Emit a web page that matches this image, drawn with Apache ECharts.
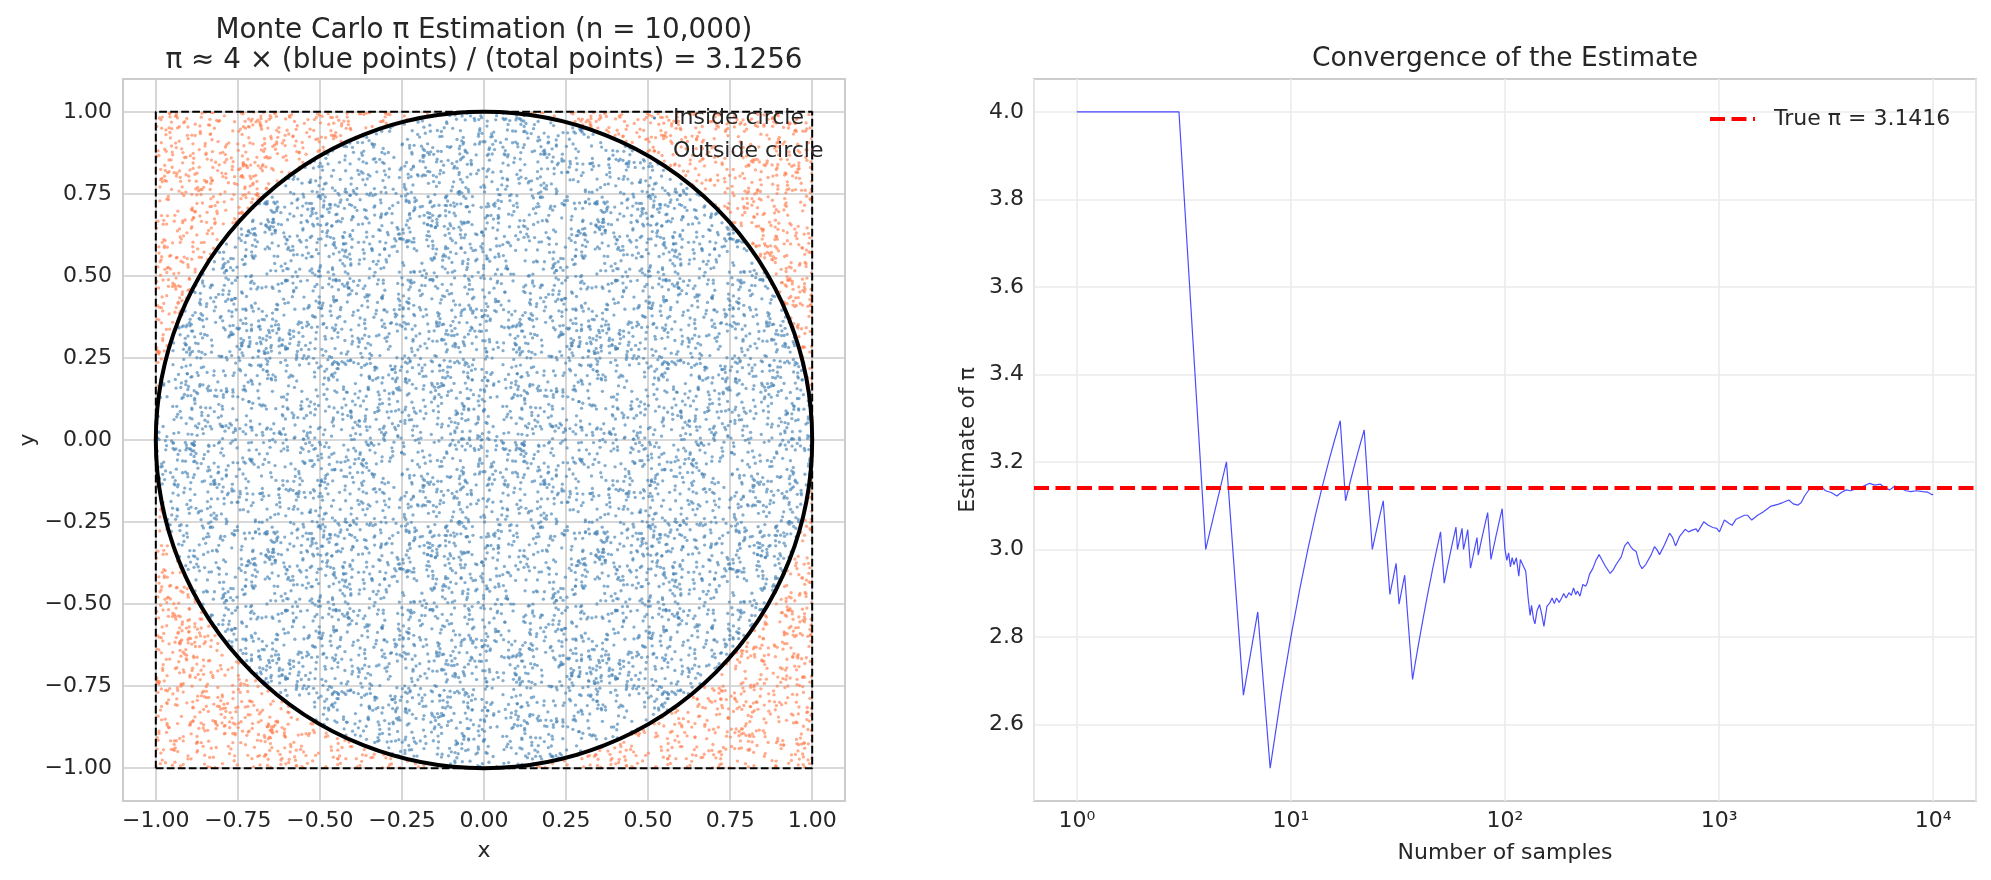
<!DOCTYPE html>
<html>
<head>
<meta charset="utf-8">
<script src="https://cdn.jsdelivr.net/npm/echarts@6/dist/echarts.min.js"></script>
<style>
html,body{margin:0;padding:0;background:#ffffff;}
#chart{width:1991px;height:880px;}
</style>
</head>
<body>
<div id="chart"></div>
<script>
// ---------------- data ----------------
const totalPoints = 10000;
const piEstimate = 3.1256;
const trueValue = 3.1416;

// square of the sampling region and the unit circle
const squareX = [-1, 1, 1, -1, -1];
const squareY = [-1, -1, 1, 1, -1];
const circleCenter = [0, 0];
const circleRadius = [1];

// tick labels
const scatterTicks = [-1, -0.75, -0.5, -0.25, 0, 0.25, 0.5, 0.75, 1];
const logTickLabels = ['10⁰', '10¹', '10²', '10³', '10⁴'];
const piTicks = [2.6, 2.8, 3.0, 3.2, 3.4, 3.6, 3.8, 4.0];

// running estimate
const sampleCounts = [
  1, 2, 3, 4, 5, 6, 7, 8, 9, 10, 11, 12, 13, 14, 15, 16, 17, 18, 19, 20,
  21, 22, 23, 24, 25, 26, 27, 28, 29, 30, 31, 32, 33, 34, 35, 36, 37, 38, 39, 40,
  41, 42, 43, 44, 45, 46, 47, 48, 49, 50, 51, 52, 53, 54, 55, 56, 57, 58, 59, 60,
  61, 62, 63, 64, 65, 66, 67, 68, 69, 70, 71, 72, 73, 74, 75, 76, 77, 78, 79, 80,
  81, 82, 83, 84, 85, 86, 87, 88, 89, 90, 91, 92, 93, 94, 95, 96, 97, 98, 99, 100,
  102, 104, 106, 108, 110, 113, 116, 118, 121, 125, 128, 131, 133, 136, 138, 141, 145, 148, 152, 157,
  162, 166, 170, 174, 179, 184, 188, 193, 199, 204, 209, 214, 218, 224, 231, 238, 242, 248, 257, 266,
  275, 283, 294, 310, 321, 330, 349, 362, 375, 388, 396, 410, 425, 437, 455, 482, 499, 512, 527, 557,
  587, 607, 626, 653, 694, 720, 749, 781, 795, 848, 890, 935, 975, 1004, 1059, 1110, 1150, 1201, 1313, 1360,
  1421, 1448, 1514, 1600, 1750, 1880, 1984, 2116, 2220, 2331, 2420, 2506, 2645, 2742, 2892, 2999, 3141, 3341, 3550, 3720,
  3926, 4120, 4375, 4704, 5052, 5330, 5667, 5950, 6266, 6616, 7020, 7469, 7880, 8316, 8936, 9400, 9876, 10000
];
const runningEstimate = [
  4.000, 4.000, 4.000, 3.000, 3.200, 2.667, 2.857, 2.500, 2.667, 2.800, 2.909, 3.000, 3.077, 3.143, 3.200, 3.250, 3.294, 3.111, 3.158, 3.200,
  3.238, 3.273, 3.130, 3.000, 3.040, 3.077, 3.111, 3.000, 2.897, 2.933, 2.968, 2.875, 2.909, 2.941, 2.857, 2.778, 2.703, 2.737, 2.769, 2.800,
  2.829, 2.857, 2.884, 2.909, 2.933, 2.957, 2.979, 3.000, 3.020, 3.040, 2.980, 2.923, 2.943, 2.963, 2.982, 3.000, 3.018, 3.034, 3.051, 3.000,
  3.016, 3.032, 3.048, 3.000, 3.015, 3.030, 3.045, 3.000, 2.957, 2.971, 2.986, 3.000, 3.014, 3.027, 2.987, 3.000, 3.013, 3.026, 3.038, 3.050,
  3.062, 3.073, 3.084, 3.048, 3.012, 2.977, 2.989, 3.000, 3.011, 3.022, 3.033, 3.043, 3.054, 3.064, 3.074, 3.083, 3.093, 3.061, 3.030, 3.000,
  2.975, 2.992, 2.960, 2.981, 2.965, 2.981, 2.939, 2.977, 2.965, 2.950, 2.893, 2.849, 2.872, 2.840, 2.830, 2.859, 2.874, 2.855, 2.824, 2.870,
  2.878, 2.889, 2.876, 2.889, 2.879, 2.889, 2.899, 2.889, 2.901, 2.895, 2.912, 2.897, 2.905, 2.893, 2.920, 2.916, 2.923, 2.943, 2.956, 2.975,
  2.988, 2.977, 2.962, 2.945, 2.954, 2.965, 2.983, 3.008, 3.017, 3.005, 3.000, 2.995, 2.966, 2.956, 2.966, 2.988, 3.006, 3.000, 2.988, 3.011,
  3.037, 3.027, 3.008, 3.029, 3.046, 3.040, 3.044, 3.047, 3.040, 3.063, 3.055, 3.050, 3.048, 3.040, 3.067, 3.060, 3.055, 3.069, 3.078, 3.078,
  3.067, 3.065, 3.078, 3.085, 3.099, 3.103, 3.107, 3.113, 3.104, 3.101, 3.107, 3.122, 3.138, 3.141, 3.136, 3.144, 3.134, 3.130, 3.122, 3.130,
  3.136, 3.134, 3.139, 3.144, 3.151, 3.147, 3.149, 3.141, 3.136, 3.145, 3.140, 3.134, 3.132, 3.134, 3.132, 3.131, 3.125, 3.1256
];

// ---------------- styling helpers ----------------
const FONT = 'DejaVu Sans';
const TXT = '#262626';

// Fill texture (a fixed, hashed dot pattern) that shades each region with the
// same dot size, colour and density as the reference point cloud.
function hash01(i) {
  let h = Math.imul(i + 0x9e3779b9, 0x85ebca6b) >>> 0;
  h ^= h >>> 13; h = Math.imul(h, 0xc2b2ae35) >>> 0;
  h ^= h >>> 16; h = Math.imul(h, 0x27d4eb2f) >>> 0;
  h ^= h >>> 15;
  return (h >>> 0) / 4294967296;
}
function dotTile(color, salt) {
  const size = 330, count = 2530, rad = 1.65;
  const c = document.createElement('canvas');
  c.width = size; c.height = size;
  const ctx = c.getContext('2d');
  ctx.fillStyle = color;
  for (let i = 0; i < count; i++) {
    const x = hash01(2 * i + salt) * size;
    const y = hash01(2 * i + 1 + salt) * size;
    for (const dx of [-size, 0, size]) {
      for (const dy of [-size, 0, size]) {
        ctx.beginPath();
        ctx.arc(x + dx, y + dy, rad, 0, Math.PI * 2);
        ctx.fill();
      }
    }
  }
  return c;
}
const bluePattern = { image: dotTile('rgba(70,130,180,0.66)', 17), repeat: 'repeat' };
const orangePattern = { image: dotTile('rgba(255,127,80,0.66)', 90001), repeat: 'repeat' };

const fmtScatter = v => (v < 0 ? '−' : '') + Math.abs(v).toFixed(2);

const chart = echarts.init(document.getElementById('chart'), null, { renderer: 'canvas' });

const option = {
  animation: false,
  backgroundColor: '#ffffff',
  textStyle: { fontFamily: FONT, color: TXT },
  title: [
    {
      text: 'Monte Carlo π Estimation (n = ' + totalPoints.toLocaleString('en-US') + ')\n' +
            'π ≈ 4 × (blue points) / (total points) = ' + piEstimate.toFixed(4),
      left: 484, top: 16, textAlign: 'center', padding: 0,
      textStyle: { fontFamily: FONT, fontSize: 27.8, fontWeight: 'normal', color: TXT, lineHeight: 30 }
    },
    {
      text: 'Convergence of the Estimate',
      left: 1505, top: 44, textAlign: 'center', padding: 0,
      textStyle: { fontFamily: FONT, fontSize: 26.5, fontWeight: 'normal', color: TXT, lineHeight: 30 }
    }
  ],
  legend: [
    {
      data: ['Inside circle', 'Outside circle'],
      orient: 'vertical', left: 648, top: 102,
      itemWidth: 3, itemHeight: 3, itemGap: 11, icon: 'circle',
      selectedMode: false,
      textStyle: { fontFamily: FONT, fontSize: 22, color: TXT, padding: [0, 0, 0, 12] }
    },
    {
      data: ['True π = ' + trueValue.toFixed(4)],
      left: 1703, top: 103,
      itemWidth: 45, itemHeight: 14,
      selectedMode: false,
      itemStyle: { color: 'rgba(0,0,0,0)', borderWidth: 0, opacity: 0 },
      lineStyle: { color: '#ff0000', width: 4, type: [15, 6.5], opacity: 1 },
      textStyle: { fontFamily: FONT, fontSize: 22, color: TXT, padding: [0, 0, 0, 14] }
    }
  ],
  grid: [
    { left: 123, top: 79, width: 722, height: 722, show: true, borderColor: '#cccccc', borderWidth: 2, backgroundColor: 'transparent' },
    { left: 1034, top: 79, width: 942, height: 722, show: true, borderColor: '#cccccc', borderWidth: 2, backgroundColor: 'transparent' }
  ],
  xAxis: [
    {
      gridIndex: 0, type: 'value', min: -1.1, max: 1.1,
      name: 'x', nameLocation: 'middle', nameGap: 39,
      nameTextStyle: { fontFamily: FONT, fontSize: 22, color: TXT },
      axisLine: { show: false },
      axisTick: { show: false, customValues: scatterTicks },
      axisLabel: { customValues: scatterTicks, formatter: fmtScatter, fontFamily: FONT, fontSize: 22, color: TXT, margin: 9 },
      splitLine: { show: true, lineStyle: { color: '#cccccc', width: 1.6 } }
    },
    {
      gridIndex: 1, type: 'log', logBase: 10, min: Math.pow(10, -0.2), max: Math.pow(10, 4.2),
      name: 'Number of samples', nameLocation: 'middle', nameGap: 41,
      nameTextStyle: { fontFamily: FONT, fontSize: 22, color: TXT },
      axisLine: { show: false },
      axisTick: { show: false },
      minorTick: { show: false },
      axisLabel: {
        showMinLabel: false, showMaxLabel: false,
        fontFamily: FONT, fontSize: 22, color: TXT, margin: 9,
        formatter: v => {
          const l = Math.log10(v);
          const e = Math.round(l);
          if (Math.abs(l - e) > 1e-6) return '';
          return logTickLabels[e] || '';
        }
      },
      splitLine: { show: true, lineStyle: { color: '#ebebeb', width: 1.6 } }
    }
  ],
  yAxis: [
    {
      gridIndex: 0, type: 'value', min: -1.1, max: 1.1,
      name: 'y', nameLocation: 'middle', nameGap: 84,
      nameTextStyle: { fontFamily: FONT, fontSize: 22, color: TXT },
      axisLine: { show: false },
      axisTick: { show: false, customValues: scatterTicks },
      axisLabel: { customValues: scatterTicks, formatter: fmtScatter, fontFamily: FONT, fontSize: 22, color: TXT, margin: 11 },
      splitLine: { show: true, lineStyle: { color: '#cccccc', width: 1.6 } }
    },
    {
      gridIndex: 1, type: 'value', min: 2.425, max: 4.075, splitNumber: 8,
      name: 'Estimate of π', nameLocation: 'middle', nameGap: 55,
      nameTextStyle: { fontFamily: FONT, fontSize: 22, color: TXT },
      axisLine: { show: false },
      axisTick: { show: false, customValues: piTicks },
      axisLabel: { customValues: piTicks, formatter: v => v.toFixed(1), fontFamily: FONT, fontSize: 22, color: TXT, margin: 10 },
      splitLine: { show: true, lineStyle: { color: '#ebebeb', width: 1.6 } }
    }
  ],
  series: [
    {
      type: 'custom', name: 'Outside circle', coordinateSystem: 'cartesian2d',
      xAxisIndex: 0, yAxisIndex: 0, silent: true, z: 2,
      itemStyle: { color: 'coral' },
      data: [[circleCenter[0], circleCenter[1], circleRadius[0]]],
      renderItem: (params, api) => {
        const p0 = api.coord([Math.min(...squareX), Math.max(...squareY)]);
        const p1 = api.coord([Math.max(...squareX), Math.min(...squareY)]);
        const c = api.coord([api.value(0), api.value(1)]);
        const r = api.size([api.value(2), 0])[0];
        const d = 'M' + p0[0] + ' ' + p0[1] + ' L' + p1[0] + ' ' + p0[1] + ' L' + p1[0] + ' ' + p1[1] +
          ' L' + p0[0] + ' ' + p1[1] + ' Z M' + (c[0] + r) + ' ' + c[1] +
          ' A' + r + ' ' + r + ' 0 1 0 ' + (c[0] - r) + ' ' + c[1] +
          ' A' + r + ' ' + r + ' 0 1 0 ' + (c[0] + r) + ' ' + c[1] + ' Z';
        return {
          type: 'path',
          shape: { pathData: d, x: p0[0], y: p0[1], width: p1[0] - p0[0], height: p1[1] - p0[1] },
          style: { fill: orangePattern, stroke: null }
        };
      }
    },
    {
      type: 'custom', name: 'Inside circle', coordinateSystem: 'cartesian2d',
      xAxisIndex: 0, yAxisIndex: 0, silent: true, z: 2,
      itemStyle: { color: 'steelblue' },
      data: [[circleCenter[0], circleCenter[1], circleRadius[0]]],
      renderItem: (params, api) => {
        const c = api.coord([api.value(0), api.value(1)]);
        const r = api.size([api.value(2), 0])[0];
        return { type: 'circle', shape: { cx: c[0], cy: c[1], r: r }, style: { fill: bluePattern, stroke: null } };
      }
    },
    {
      type: 'line', name: 'square', xAxisIndex: 0, yAxisIndex: 0, silent: true, z: 3,
      data: squareX.map((x, i) => [x, squareY[i]]),
      symbol: 'none',
      lineStyle: { color: '#000000', width: 2, type: [7.7, 3.3] }
    },
    {
      type: 'custom', name: 'circle', coordinateSystem: 'cartesian2d',
      xAxisIndex: 0, yAxisIndex: 0, silent: true, z: 4,
      data: [[circleCenter[0], circleCenter[1], circleRadius[0]]],
      renderItem: (params, api) => {
        const c = api.coord([api.value(0), api.value(1)]);
        const r = api.size([api.value(2), 0])[0];
        return { type: 'circle', shape: { cx: c[0], cy: c[1], r: r }, style: { fill: 'none', stroke: '#000000', lineWidth: 4 } };
      }
    },
    {
      type: 'line', name: 'Running estimate', xAxisIndex: 1, yAxisIndex: 1, silent: true, z: 3,
      data: sampleCounts.map((n, i) => [n, runningEstimate[i]]),
      symbol: 'none',
      lineStyle: { color: 'rgba(0,0,255,0.7)', width: 1.2 }
    },
    {
      type: 'line', name: 'True π = ' + trueValue.toFixed(4), xAxisIndex: 1, yAxisIndex: 1, silent: true, z: 4,
      data: [],
      symbol: 'none',
      itemStyle: { color: '#ff0000' },
      lineStyle: { color: '#ff0000', width: 4, type: [15, 6.5] },
      markLine: {
        silent: true, symbol: ['none', 'none'], label: { show: false },
        lineStyle: { color: '#ff0000', width: 4, type: [15, 6.5] },
        data: [{ yAxis: trueValue }]
      }
    }
  ]
};
chart.setOption(option);
</script>
</body>
</html>
